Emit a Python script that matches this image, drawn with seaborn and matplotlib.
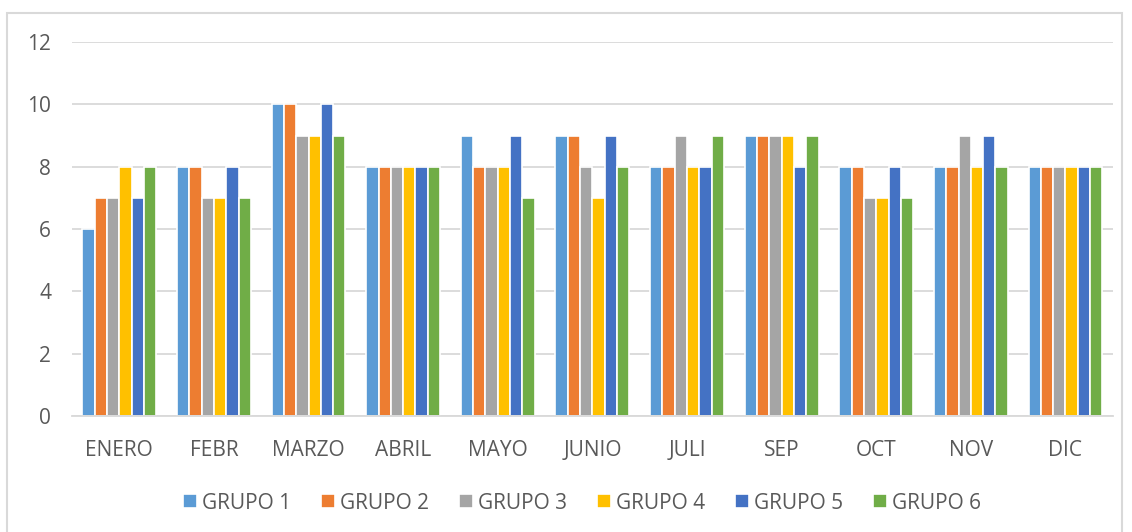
import numpy as np
import pandas as pd
import seaborn as sns
import matplotlib.pyplot as plt
from matplotlib.patches import Rectangle

meses = ['ENERO', 'FEBR', 'MARZO', 'ABRIL', 'MAYO', 'JUNIO', 'JULI', 'SEP', 'OCT', 'NOV', 'DIC']
grupos = ['GRUPO 1', 'GRUPO 2', 'GRUPO 3', 'GRUPO 4', 'GRUPO 5', 'GRUPO 6']
grupo1 = [6, 8, 10, 8, 9, 9, 8, 9, 8, 8, 8]
grupo2 = [7, 8, 10, 8, 8, 9, 8, 9, 8, 8, 8]
grupo3 = [7, 7, 9, 8, 8, 8, 9, 9, 7, 9, 8]
grupo4 = [8, 7, 9, 8, 8, 7, 8, 9, 7, 8, 8]
grupo5 = [7, 8, 10, 8, 9, 9, 8, 8, 8, 9, 8]
grupo6 = [8, 7, 9, 8, 7, 8, 9, 9, 7, 8, 8]
colores = ['#5B9BD5', '#ED7D31', '#A5A5A5', '#FFC000', '#4472C4', '#70AD47']

df = pd.DataFrame({'mes': meses, 'GRUPO 1': grupo1, 'GRUPO 2': grupo2, 'GRUPO 3': grupo3,
                   'GRUPO 4': grupo4, 'GRUPO 5': grupo5, 'GRUPO 6': grupo6})
df = df.melt(id_vars='mes', var_name='grupo', value_name='valor')

sns.set_style('white')
plt.rcParams['font.family'] = ['Open Sans', 'DejaVu Sans']
txt = '#595959'

fig = plt.figure(figsize=(11.32, 5.32), dpi=100)
ax = fig.add_axes([0.0636, 0.218, 0.9194, 0.703])
sns.barplot(data=df, x='mes', y='valor', hue='grupo', order=meses, hue_order=grupos,
            palette=colores, width=0.78, edgecolor='white', linewidth=1.2,
            saturation=1, ax=ax, legend=True)

ax.set_ylim(0, 12)
ax.set_yticks(range(0, 13, 2))
ax.set_xlim(-0.5, len(meses) - 0.5)
ax.yaxis.grid(True, color='#D9D9D9', linewidth=1.3)
ax.set_axisbelow(True)
for s in ['top', 'right', 'left']:
    ax.spines[s].set_visible(False)
ax.spines['bottom'].set_color('#D9D9D9')
ax.spines['bottom'].set_linewidth(1.3)
ax.set_xlabel('')
ax.set_ylabel('')
ax.tick_params(axis='both', length=0, labelsize=15, colors=txt)
ax.tick_params(axis='x', pad=17.5)
ax.tick_params(axis='y', pad=15)

ax.legend(loc='upper center', bbox_to_anchor=(0.49, -0.155), ncol=6, frameon=False,
          fontsize=15, labelcolor=txt, handlelength=0.65, handleheight=0.65,
          handletextpad=0.25, columnspacing=1.45)

fig.patches.append(Rectangle((0.0062, -0.01), 0.985, 0.985, transform=fig.transFigure,
                             fill=False, edgecolor='#D9D9D9', linewidth=1.5))

plt.savefig('out.png', dpi=100)
